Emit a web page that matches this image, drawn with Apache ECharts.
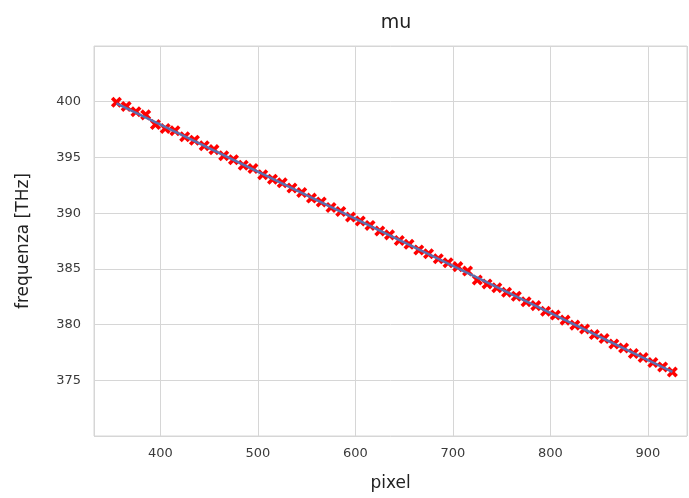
<!DOCTYPE html>
<html>
<head>
<meta charset="utf-8">
<script src="https://cdn.jsdelivr.net/npm/echarts@6/dist/echarts.min.js"></script>
<style>
  html, body { margin: 0; padding: 0; background: #fff; }
  #ccc { width: 689px; height: 498px; }
</style>
</head>
<body>
<div id="ccc"></div>
<script>
// pixel positions of the measured lines
var pixels = [355, 365, 375, 385, 395, 405, 415, 425, 435, 445, 455, 465, 475, 485, 495,
              505, 515, 525, 535, 545, 555, 565, 575, 585, 595, 605, 615, 625, 635, 645,
              655, 665, 675, 685, 695, 705, 715, 725, 735, 745, 755, 765, 775, 785, 795,
              805, 815, 825, 835, 845, 855, 865, 875, 885, 895, 905, 915, 925];
// measured frequencies [THz]
var freqs = [399.95, 399.58, 399.10, 398.82, 397.95, 397.60, 397.40, 396.85, 396.55, 396.05,
             395.70, 395.15, 394.80, 394.30, 394.00, 393.45, 393.05, 392.72, 392.25, 391.85,
             391.35, 391.00, 390.50, 390.15, 389.65, 389.30, 388.90, 388.40, 388.05, 387.55,
             387.20, 386.70, 386.35, 385.90, 385.55, 385.20, 384.80, 384.00, 383.65, 383.30,
             382.90, 382.55, 382.05, 381.70, 381.20, 380.85, 380.40, 379.95, 379.60, 379.10,
             378.75, 378.25, 377.90, 377.40, 377.05, 376.60, 376.20, 375.75];
// linear fit end points
var fitX = [355, 925];
var fitY = [399.85, 375.75];

var chart = echarts.init(document.getElementById('ccc'));
var txt = '#3a3a3a';
var gridCol = '#d6d6d6';
var font = 'DejaVu Sans';

var option = {
    backgroundColor: '#fff',
    animation: false,
    title: {
        text: 'mu',
        left: 391,
        textAlign: 'center',
        top: 9,
        textStyle: { fontFamily: font, fontSize: 19, fontWeight: 'normal', color: '#222' }
    },
    grid: {
        left: 94, right: 2, top: 46, bottom: 62,
        show: true, borderColor: gridCol, borderWidth: 1
    },
    xAxis: {
        type: 'value',
        min: 332, max: 940,
        name: 'pixel',
        nameLocation: 'middle',
        nameGap: 39,
        nameTextStyle: { fontFamily: font, fontSize: 17, color: '#222' },
        axisLine: { show: false },
        axisTick: { show: false },
        splitLine: { lineStyle: { color: gridCol, width: 1 } },
        axisLabel: {
            fontFamily: font, fontSize: 13, color: txt, margin: 11,
            showMinLabel: false, showMaxLabel: false,
            formatter: function (v) { return v % 100 === 0 ? String(v) : ''; }
        }
    },
    yAxis: {
        type: 'value',
        min: 370, max: 405, interval: 5,
        name: 'frequenza [THz]',
        nameLocation: 'middle',
        nameGap: 62,
        nameTextStyle: { fontFamily: font, fontSize: 17, color: '#222' },
        axisLine: { show: false },
        axisTick: { show: false },
        splitLine: { lineStyle: { color: gridCol, width: 1 } },
        axisLabel: {
            fontFamily: font, fontSize: 13, color: txt, margin: 13,
            formatter: function (v) { return (v === 370 || v === 405) ? '' : String(v); }
        }
    },
    series: [
        {
            type: 'scatter',
            data: pixels.map(function (p, i) { return [p, freqs[i]]; }),
            symbol: 'path://M3.5,0h3v3.5h3.5v3h-3.5v3.5h-3v-3.5h-3.5v-3h3.5z',
            symbolRotate: 45,
            symbolSize: 12,
            itemStyle: { color: '#ff0000', opacity: 1 },
            z: 2
        },
        {
            type: 'line',
            data: fitX.map(function (p, i) { return [p, fitY[i]]; }),
            showSymbol: false,
            lineStyle: { color: '#5a6fb0', width: 2.5 },
            z: 3
        }
    ]
};
chart.setOption(option);
</script>
</body>
</html>
